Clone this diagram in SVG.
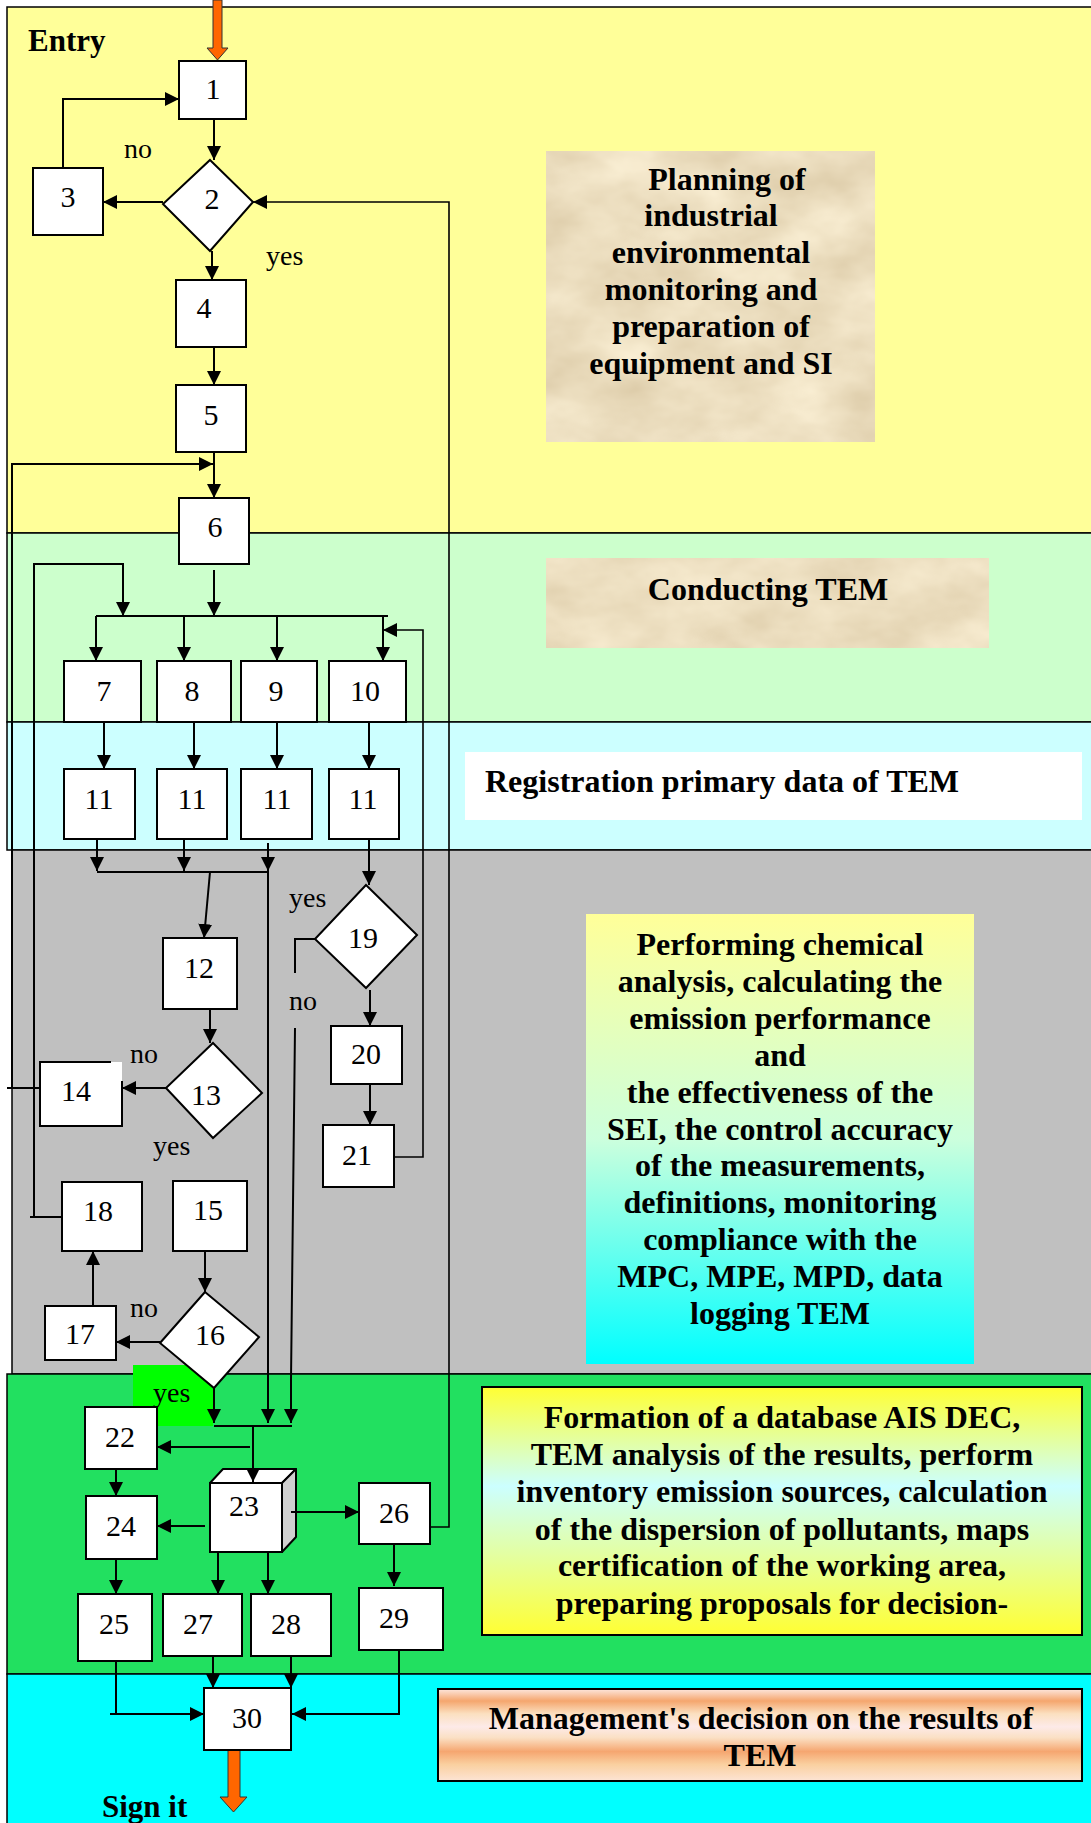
<svg xmlns="http://www.w3.org/2000/svg" width="1091" height="1823" viewBox="0 0 1091 1823">
  <defs>
    <style>
      .box { fill: #fff; stroke: #000; stroke-width: 2; }
      .num { font-family: "Liberation Serif", "Times New Roman", serif; font-size: 30px; text-anchor: middle; fill: #000; }
      .lbl { font-family: "Liberation Serif", "Times New Roman", serif; font-size: 28px; fill: #000; }
      .ttl { font-family: "Liberation Serif", "Times New Roman", serif; font-size: 32px; font-weight: bold; text-anchor: middle; fill: #000; }
      .big { font-family: "Liberation Serif", "Times New Roman", serif; font-size: 31px; font-weight: bold; fill: #000; }
      .band { stroke: #000; stroke-width: 1.5; }
      .conn { fill: none; stroke: #000; stroke-width: 2; }
      .thin { fill: none; stroke: #000; stroke-width: 1.6; }
      .arr { marker-end: url(#ah); }
      .exit { fill: #FF6600; stroke: #333; stroke-width: 1; }
    </style>
    <marker id="ah" viewBox="0 0 14 14" refX="14" refY="7" markerWidth="14" markerHeight="14" markerUnits="userSpaceOnUse" orient="auto">
      <path d="M0,0 L14,7 L0,14 z" fill="#000"/>
    </marker>
    <filter id="parchment" x="0" y="0" width="100%" height="100%" color-interpolation-filters="sRGB">
      <feTurbulence type="fractalNoise" baseFrequency="0.012 0.02" numOctaves="4" seed="7" result="n"/>
      <feColorMatrix in="n" type="matrix" values="0.15 0 0 0 0.85  0.18 0 0 0 0.78  0.22 0 0 0 0.64  0 0 0 0 1"/>
    </filter>
    <linearGradient id="gPerform" x1="0" y1="0" x2="0" y2="1">
      <stop offset="0" stop-color="#FFFF99"/>
      <stop offset="0.5" stop-color="#CCFFDD"/>
      <stop offset="1" stop-color="#00FFFF"/>
    </linearGradient>
    <linearGradient id="gForm" x1="0" y1="0" x2="0" y2="1">
      <stop offset="0" stop-color="#FFFF33"/>
      <stop offset="0.4" stop-color="#CCFFFF"/>
      <stop offset="1" stop-color="#FFFF33"/>
    </linearGradient>
    <linearGradient id="gMgmt" x1="0" y1="0" x2="0" y2="1">
      <stop offset="0" stop-color="#FDE6DC"/>
      <stop offset="0.13" stop-color="#F5A66E"/>
      <stop offset="0.27" stop-color="#FBE0C0"/>
      <stop offset="0.41" stop-color="#FDEAE8"/>
      <stop offset="0.53" stop-color="#FBE0C4"/>
      <stop offset="0.68" stop-color="#F5A670"/>
      <stop offset="0.82" stop-color="#FAD0A0"/>
      <stop offset="1" stop-color="#FCE4D4"/>
    </linearGradient>
  </defs>

  <rect x="0" y="0" width="1091" height="1823" fill="#fff"/>

  <!-- stage bands -->
  <g id="bands">
    <rect class="band" x="7" y="7" width="1090" height="526" fill="#FFFF99"/>
    <rect class="band" x="7" y="533" width="1090" height="189" fill="#CCFFCC"/>
    <rect class="band" x="7" y="722" width="1090" height="128" fill="#CCFFFF"/>
    <rect class="band" x="12" y="850" width="1085" height="524" fill="#C0C0C0"/>
    <rect class="band" x="7" y="1374" width="1090" height="300" fill="#22E060"/>
    <rect class="band" x="7" y="1674" width="1090" height="160" fill="#00FFFF"/>
  </g>

  <!-- stage captions -->
  <g id="stage-planning">
    <rect x="546" y="151" width="329" height="291" filter="url(#parchment)"/>
    <text class="ttl" x="727" y="190">Planning of</text>
    <text class="ttl" x="711" y="226">industrial</text>
    <text class="ttl" x="711" y="263">environmental</text>
    <text class="ttl" x="711" y="300">monitoring and</text>
    <text class="ttl" x="711" y="337">preparation of</text>
    <text class="ttl" x="711" y="374">equipment and SI</text>
  </g>
  <g id="stage-conducting">
    <rect x="546" y="558" width="443" height="90" filter="url(#parchment)"/>
    <text class="ttl" x="768" y="600">Conducting TEM</text>
  </g>
  <g id="stage-registration">
    <rect x="465" y="752" width="617" height="68" fill="#fff"/>
    <text class="ttl" x="485" y="792" style="text-anchor:start">Registration primary data of TEM</text>
  </g>
  <g id="stage-analysis">
    <rect x="586" y="914" width="388" height="450" fill="url(#gPerform)"/>
    <text class="ttl" x="780" y="955">Performing chemical</text>
    <text class="ttl" x="780" y="992">analysis, calculating the</text>
    <text class="ttl" x="780" y="1029">emission performance</text>
    <text class="ttl" x="780" y="1066">and</text>
    <text class="ttl" x="780" y="1103">the effectiveness of the</text>
    <text class="ttl" x="780" y="1140">SEI, the control accuracy</text>
    <text class="ttl" x="780" y="1176">of the measurements,</text>
    <text class="ttl" x="780" y="1213">definitions, monitoring</text>
    <text class="ttl" x="780" y="1250">compliance with the</text>
    <text class="ttl" x="780" y="1287">MPC, MPE, MPD, data</text>
    <text class="ttl" x="780" y="1324">logging TEM</text>
  </g>
  <g id="stage-database">
    <rect x="482" y="1387" width="600" height="248" fill="url(#gForm)" stroke="#000" stroke-width="2"/>
    <text class="ttl" x="782" y="1428">Formation of a database AIS DEC,</text>
    <text class="ttl" x="782" y="1465">TEM analysis of the results, perform</text>
    <text class="ttl" x="782" y="1502">inventory emission sources, calculation</text>
    <text class="ttl" x="782" y="1540">of the dispersion of pollutants, maps</text>
    <text class="ttl" x="782" y="1576">certification of the working area,</text>
    <text class="ttl" x="782" y="1614">preparing proposals for decision-</text>
  </g>
  <g id="stage-decision">
    <rect x="438" y="1689" width="644" height="92" fill="url(#gMgmt)" stroke="#000" stroke-width="2"/>
    <text class="ttl" x="761" y="1729">Management's decision on the results of</text>
    <text class="ttl" x="760" y="1766">TEM</text>
  </g>

  <!-- entry / exit -->
  <g id="entry">
    <path class="exit" d="M213,0 V48 H207 L217.5,60 L228,48 H222 V0 Z"/>
    <text class="big" x="28" y="51">Entry</text>
  </g>
  <g id="exit">
    <path class="exit" d="M228,1750 V1797 H220 L233.5,1812 L247,1797 H240 V1750 Z"/>
    <text class="big" x="102" y="1817">Sign it</text>
  </g>

  <!-- highlight behind the yes branch of 16 -->
  <rect x="133" y="1365" width="80" height="61" fill="#00FF00"/>

  <!-- nodes -->
  <g id="n1"><rect class="box" x="179" y="61" width="67" height="58"/><text class="num" x="213" y="99">1</text></g>
  <g id="n2"><polygon class="box" points="210,160 253,202 210,251 163,204"/><text class="num" x="212" y="209">2</text></g>
  <g id="n3"><rect class="box" x="33" y="168" width="70" height="67"/><text class="num" x="68" y="207">3</text></g>
  <g id="n4"><rect class="box" x="176" y="280" width="70" height="67"/><text class="num" x="204" y="318">4</text></g>
  <g id="n5"><rect class="box" x="176" y="385" width="70" height="67"/><text class="num" x="211" y="425">5</text></g>
  <g id="n6"><rect class="box" x="179" y="498" width="70" height="66"/><text class="num" x="215" y="537">6</text></g>
  <g id="n7"><rect class="box" x="64" y="661" width="77" height="61"/><text class="num" x="104" y="701">7</text></g>
  <g id="n8"><rect class="box" x="157" y="661" width="74" height="61"/><text class="num" x="192" y="701">8</text></g>
  <g id="n9"><rect class="box" x="241" y="661" width="76" height="61"/><text class="num" x="276" y="701">9</text></g>
  <g id="n10"><rect class="box" x="329" y="661" width="77" height="61"/><text class="num" x="365" y="701">10</text></g>
  <g id="n11a"><rect class="box" x="64" y="769" width="71" height="70"/><text class="num" x="99" y="809">11</text></g>
  <g id="n11b"><rect class="box" x="157" y="769" width="70" height="70"/><text class="num" x="192" y="809">11</text></g>
  <g id="n11c"><rect class="box" x="241" y="769" width="71" height="70"/><text class="num" x="277" y="809">11</text></g>
  <g id="n11d"><rect class="box" x="329" y="769" width="70" height="70"/><text class="num" x="363" y="809">11</text></g>
  <g id="n12"><rect class="box" x="163" y="938" width="74" height="71"/><text class="num" x="199" y="978">12</text></g>
  <g id="n13"><polygon class="box" points="213,1043 262,1093 213,1138 166,1088"/><text class="num" x="206" y="1105">13</text></g>
  <g id="n14">
    <rect x="40" y="1062" width="82" height="64" fill="#fff"/>
    <path d="M111,1062 H40 V1126 H122 V1081" fill="none" stroke="#000" stroke-width="2"/>
    <text class="num" x="76" y="1101">14</text>
  </g>
  <g id="n15"><rect class="box" x="173" y="1181" width="74" height="70"/><text class="num" x="208" y="1220">15</text></g>
  <g id="n16"><polygon class="box" points="205,1292 259,1337 214,1388 160,1343"/><text class="num" x="210" y="1345">16</text></g>
  <g id="n17"><rect class="box" x="45" y="1306" width="71" height="54"/><text class="num" x="80" y="1344">17</text></g>
  <g id="n18"><rect class="box" x="62" y="1182" width="80" height="69"/><text class="num" x="98" y="1221">18</text></g>
  <g id="n19"><polygon class="box" points="366,885 417,935 366,988 315,939"/><text class="num" x="363" y="948">19</text></g>
  <g id="n20"><rect class="box" x="331" y="1026" width="71" height="58"/><text class="num" x="366" y="1064">20</text></g>
  <g id="n21"><rect class="box" x="323" y="1125" width="71" height="62"/><text class="num" x="357" y="1165">21</text></g>
  <g id="n22"><rect class="box" x="85" y="1407" width="72" height="62"/><text class="num" x="120" y="1447">22</text></g>
  <g id="n23">
    <polygon points="210,1483 223,1469 296,1469 282,1483" fill="#fff" stroke="#000" stroke-width="2" stroke-linejoin="round"/>
    <polygon points="282,1483 296,1469 296,1537 282,1552" fill="#D0D0D0" stroke="#000" stroke-width="2" stroke-linejoin="round"/>
    <rect class="box" x="210" y="1483" width="72" height="69"/>
    <text class="num" x="244" y="1516">23</text>
  </g>
  <g id="n24"><rect class="box" x="86" y="1496" width="71" height="63"/><text class="num" x="121" y="1536">24</text></g>
  <g id="n25"><rect class="box" x="78" y="1594" width="74" height="67"/><text class="num" x="114" y="1634">25</text></g>
  <g id="n26"><rect class="box" x="359" y="1483" width="71" height="61"/><text class="num" x="394" y="1523">26</text></g>
  <g id="n27"><rect class="box" x="163" y="1594" width="79" height="62"/><text class="num" x="198" y="1634">27</text></g>
  <g id="n28"><rect class="box" x="251" y="1594" width="80" height="62"/><text class="num" x="286" y="1634">28</text></g>
  <g id="n29"><rect class="box" x="359" y="1588" width="84" height="62"/><text class="num" x="394" y="1628">29</text></g>
  <g id="n30"><rect class="box" x="204" y="1688" width="87" height="62"/><text class="num" x="247" y="1728">30</text></g>

  <!-- branch labels -->
  <g id="labels">
    <text class="lbl" x="124" y="158">no</text>
    <text class="lbl" x="266" y="265">yes</text>
    <text class="lbl" x="289" y="907">yes</text>
    <text class="lbl" x="289" y="1010">no</text>
    <text class="lbl" x="130" y="1063">no</text>
    <text class="lbl" x="153" y="1155">yes</text>
    <text class="lbl" x="130" y="1317">no</text>
    <text class="lbl" x="153" y="1402">yes</text>
  </g>

  <!-- connectors -->
  <g id="connectors">
    <!-- planning stage -->
    <path class="conn arr" d="M214,119 V160"/>
    <path class="conn arr" d="M163,202 H103"/>
    <path class="conn arr" d="M63,168 V99 H179"/>
    <path class="conn arr" d="M212,251 V280"/>
    <path class="conn arr" d="M214,347 V385"/>
    <path class="conn arr" d="M214,452 V498"/>
    <!-- return from 14 to 6 -->
    <path class="conn" d="M40,1088 H7"/>
    <path class="conn arr" d="M12,1088 V464 H213"/>
    <!-- return from 26 to 2 -->
    <path class="thin arr" d="M430,1527 H449 V202 H253"/>

    <!-- distribution to 7..10 -->
    <path class="conn arr" d="M214,570 V616"/>
    <path class="conn" d="M96,616 H388"/>
    <path class="conn arr" d="M96,616 V661"/>
    <path class="conn arr" d="M184,616 V661"/>
    <path class="conn arr" d="M277,616 V661"/>
    <path class="conn arr" d="M383,616 V661"/>
    <!-- return from 18 -->
    <path class="conn" d="M62,1217 H30"/>
    <path class="conn arr" d="M34,1217 V564 H123 V616"/>
    <!-- return from 21 -->
    <path class="thin arr" d="M394,1157 H423 V630 H383"/>

    <!-- 7..10 to 11 -->
    <path class="conn arr" d="M104,722 V769"/>
    <path class="conn arr" d="M194,722 V769"/>
    <path class="conn arr" d="M277,722 V769"/>
    <path class="conn arr" d="M369,722 V769"/>

    <!-- registration merge -->
    <path class="conn arr" d="M97,839 V871"/>
    <path class="conn arr" d="M184,839 V871"/>
    <path class="conn arr" d="M268,843 V871"/>
    <path class="conn" d="M97,872 H268"/>
    <path class="conn arr" d="M210,872 L204,938"/>
    <path class="conn arr" d="M268,871 V1423"/>
    <path class="conn arr" d="M369,839 V885"/>

    <!-- analysis stage -->
    <path class="conn arr" d="M210,1009 V1043"/>
    <path class="conn arr" d="M166,1088 H122"/>
    <path class="conn arr" d="M205,1251 V1292"/>
    <path class="conn arr" d="M160,1342 H116"/>
    <path class="conn arr" d="M93,1306 V1251"/>
    <path class="conn arr" d="M370,990 V1026"/>
    <path class="conn arr" d="M370,1084 V1125"/>
    <path class="conn" d="M315,939 H295 V973"/>
    <path class="conn arr" d="M295,1028 L291,1380 V1423"/>
    <path class="conn arr" d="M214,1388 V1423"/>

    <!-- database stage -->
    <path class="conn" d="M214,1426 H292"/>
    <path class="conn arr" d="M253,1426 V1482"/>
    <path class="conn arr" d="M250,1447 H157"/>
    <path class="conn arr" d="M116,1469 V1496"/>
    <path class="conn arr" d="M205,1526 H157"/>
    <path class="conn arr" d="M116,1559 V1594"/>
    <path class="conn arr" d="M218,1552 V1594"/>
    <path class="conn arr" d="M268,1552 V1594"/>
    <path class="conn arr" d="M291,1512 H359"/>
    <path class="conn arr" d="M394,1544 V1586"/>

    <!-- decision -->
    <path class="conn arr" d="M213,1656 V1688"/>
    <path class="conn arr" d="M291,1656 V1688"/>
    <path class="conn" d="M116,1661 V1714"/>
    <path class="conn arr" d="M110,1714 H204"/>
    <path class="conn arr" d="M399,1650 V1714 H292"/>
  </g>
</svg>
